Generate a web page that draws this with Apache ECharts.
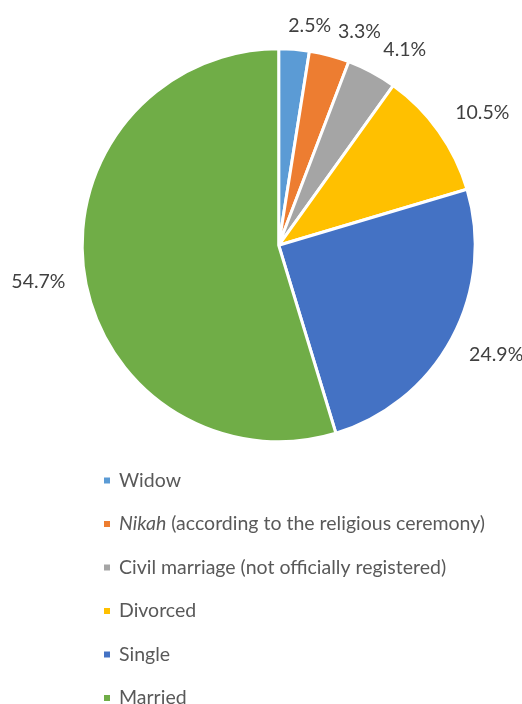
<!DOCTYPE html>
<html>
<head>
<meta charset="utf-8">
<style>
  html, body { margin: 0; padding: 0; background: #ffffff; }
  #chart { width: 522px; height: 704px; }
</style>
<script src="https://cdn.jsdelivr.net/npm/echarts@6/dist/echarts.min.js"></script>
</head>
<body>
<div id="chart"></div>
<script>
// Marital status shares (percent), clockwise from 12 o'clock
const categories = [
  'Widow',
  'Nikah (according to the religious ceremony)',
  'Civil marriage (not officially registered)',
  'Divorced',
  'Single',
  'Married'
];
const values = [2.5, 3.3, 4.1, 10.5, 24.9, 54.7];
const colors = ['#5B9BD5', '#ED7D31', '#A5A5A5', '#FFC000', '#4472C4', '#70AD47'];

const FONT = 'Lato, "Open Sans", sans-serif';
const FONT_SIZE = 19.5;
const CENTER = [278.7, 245.3];
const RADIUS = 196.5;
const START_ANGLE = 90;

// mid-angle (degrees, math convention) of each slice, clockwise from the start angle
const total = values.reduce((a, b) => a + b, 0);
const midAngles = [];
let acc = 0;
values.forEach(v => {
  midAngles.push(START_ANGLE - (acc + v / 2) / total * 360);
  acc += v;
});

function clamp1(v) { return Math.max(-1, Math.min(1, v)); }

// Place each percentage just beyond the rim, nudged outward by half its own box
function placeLabel(params) {
  const a = midAngles[params.dataIndex] * Math.PI / 180;
  const c = Math.cos(a), s = Math.sin(a);
  const R = RADIUS + 14;
  const w = params.labelRect.width, h = params.labelRect.height;
  const x = CENTER[0] + R * c + (w / 2 + 5) * clamp1(7 * c);
  const y = CENTER[1] - R * s - (h / 2) * clamp1(3.5 * s);
  return { x: x, y: y, align: 'center', verticalAlign: 'middle' };
}

const chart = echarts.init(document.getElementById('chart'), null, { renderer: 'canvas' });

const textBase = { fontFamily: FONT, fontSize: FONT_SIZE, color: '#595959', lineHeight: 20 };

chart.setOption({
  animation: false,
  backgroundColor: '#ffffff',
  color: colors,
  legend: {
    orient: 'vertical',
    left: 97,
    top: 465.5,
    height: 238,
    icon: 'rect',
    itemWidth: 8,
    itemHeight: 8,
    itemGap: 23.5,
    padding: [5, 5, 0, 5],
    selectedMode: false,
    data: categories,
    formatter: function (name) {
      if (name.indexOf('Nikah') === 0) {
        return '{i|Nikah}{n|' + name.slice(5) + '}';
      }
      return '{n|' + name + '}';
    },
    textStyle: Object.assign({}, textBase, {
      padding: [0, 0, 0, 3],
      rich: {
        n: Object.assign({}, textBase),
        i: Object.assign({}, textBase, { fontStyle: 'italic' })
      }
    })
  },
  series: [{
    type: 'pie',
    center: CENTER,
    radius: RADIUS,
    startAngle: START_ANGLE,
    clockwise: true,
    avoidLabelOverlap: false,
    itemStyle: { borderColor: '#ffffff', borderWidth: 3 },
    label: {
      show: true,
      position: 'outside',
      fontFamily: FONT,
      fontSize: FONT_SIZE,
      color: '#404040',
      formatter: p => p.value.toFixed(1) + '%'
    },
    labelLine: { show: false },
    labelLayout: placeLabel,
    emphasis: { disabled: true },
    data: categories.map((name, i) => ({ name: name, value: values[i] }))
  }]
});
</script>
</body>
</html>
